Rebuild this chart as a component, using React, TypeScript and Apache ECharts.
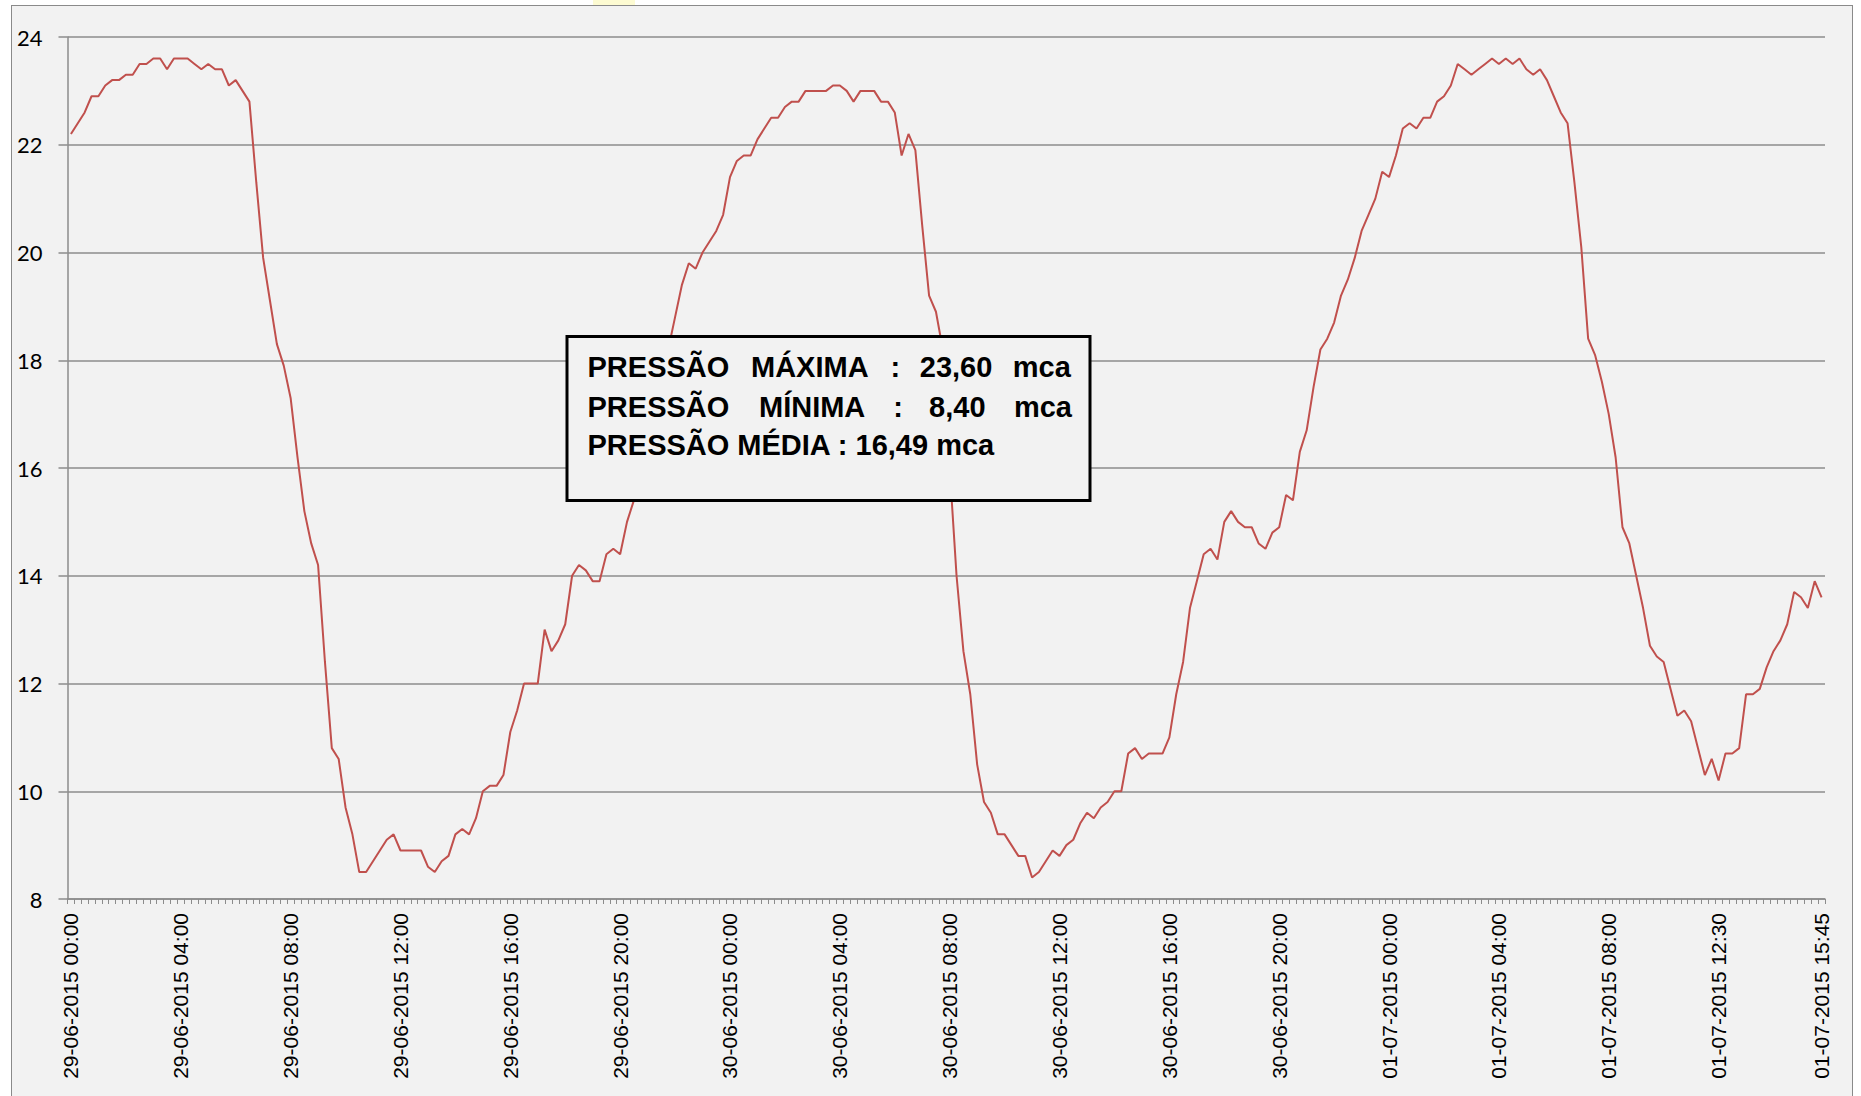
import React, { useEffect, useRef } from "react";
import * as echarts from "echarts";

// Pressure readings (mca), one every 15 minutes, 29-06-2015 00:00 .. 01-07-2015 15:45
const VALUES: number[] = [
  22.2, 22.4, 22.6, 22.9, 22.9, 23.1, 23.2, 23.2, 23.3, 23.3,
  23.5, 23.5, 23.6, 23.6, 23.4, 23.6, 23.6, 23.6, 23.5, 23.4,
  23.5, 23.4, 23.4, 23.1, 23.2, 23.0, 22.8, 21.3, 19.9, 19.1,
  18.3, 17.9, 17.3, 16.2, 15.2, 14.6, 14.2, 12.4, 10.8, 10.6,
  9.7, 9.2, 8.5, 8.5, 8.7, 8.9, 9.1, 9.2, 8.9, 8.9,
  8.9, 8.9, 8.6, 8.5, 8.7, 8.8, 9.2, 9.3, 9.2, 9.5,
  10.0, 10.1, 10.1, 10.3, 11.1, 11.5, 12.0, 12.0, 12.0, 13.0,
  12.6, 12.8, 13.1, 14.0, 14.2, 14.1, 13.9, 13.9, 14.4, 14.5,
  14.4, 15.0, 15.4, 15.9, 16.5, 17.0, 17.6, 18.2, 18.8, 19.4,
  19.8, 19.7, 20.0, 20.2, 20.4, 20.7, 21.4, 21.7, 21.8, 21.8,
  22.1, 22.3, 22.5, 22.5, 22.7, 22.8, 22.8, 23.0, 23.0, 23.0,
  23.0, 23.1, 23.1, 23.0, 22.8, 23.0, 23.0, 23.0, 22.8, 22.8,
  22.6, 21.8, 22.2, 21.9, 20.5, 19.2, 18.9, 18.2, 16.0, 14.0,
  12.6, 11.8, 10.5, 9.8, 9.6, 9.2, 9.2, 9.0, 8.8, 8.8,
  8.4, 8.5, 8.7, 8.9, 8.8, 9.0, 9.1, 9.4, 9.6, 9.5,
  9.7, 9.8, 10.0, 10.0, 10.7, 10.8, 10.6, 10.7, 10.7, 10.7,
  11.0, 11.8, 12.4, 13.4, 13.9, 14.4, 14.5, 14.3, 15.0, 15.2,
  15.0, 14.9, 14.9, 14.6, 14.5, 14.8, 14.9, 15.5, 15.4, 16.3,
  16.7, 17.5, 18.2, 18.4, 18.7, 19.2, 19.5, 19.9, 20.4, 20.7,
  21.0, 21.5, 21.4, 21.8, 22.3, 22.4, 22.3, 22.5, 22.5, 22.8,
  22.9, 23.1, 23.5, 23.4, 23.3, 23.4, 23.5, 23.6, 23.5, 23.6,
  23.5, 23.6, 23.4, 23.3, 23.4, 23.2, 22.9, 22.6, 22.4, 21.3,
  20.1, 18.4, 18.1, 17.6, 17.0, 16.2, 14.9, 14.6, 14.0, 13.4,
  12.7, 12.5, 12.4, 11.9, 11.4, 11.5, 11.3, 10.8, 10.3, 10.6,
  10.2, 10.7, 10.7, 10.8, 11.8, 11.8, 11.9, 12.3, 12.6, 12.8,
  13.1, 13.7, 13.6, 13.4, 13.9, 13.6,
];

// Tick labels shown on the category axis (index -> text)
const TICK_INDEXES: number[] = [0, 16, 32, 48, 64, 80, 96, 112, 128, 144, 160, 176, 192, 208, 224, 240, 255];
const TICK_TEXTS: string[] = [
  "29-06-2015 00:00", "29-06-2015 04:00", "29-06-2015 08:00", "29-06-2015 12:00",
  "29-06-2015 16:00", "29-06-2015 20:00", "30-06-2015 00:00", "30-06-2015 04:00",
  "30-06-2015 08:00", "30-06-2015 12:00", "30-06-2015 16:00", "30-06-2015 20:00",
  "01-07-2015 00:00", "01-07-2015 04:00", "01-07-2015 08:00", "01-07-2015 12:30",
  "01-07-2015 15:45",
];

const Y_MIN = 8;
const Y_MAX = 24;
const Y_STEP = 2;

const pad = (n: number) => (n < 10 ? "0" + n : "" + n);
const DAYS = ["29-06-2015", "30-06-2015", "01-07-2015"];
const CATEGORIES: string[] = VALUES.map((_, i) => {
  const mins = i * 15;
  const d = Math.floor(mins / 1440);
  const m = mins % 1440;
  return `${DAYS[d]} ${pad(Math.floor(m / 60))}:${pad(m % 60)}`;
});

const TICK_MAP = new Map<number, string>(TICK_INDEXES.map((ix, k) => [ix, TICK_TEXTS[k]]));

const BOX_FONT = 'bold 29px "Liberation Sans", Arial, sans-serif';

export default function App() {
  const ref = useRef<HTMLDivElement>(null);

  useEffect(() => {
    if (!ref.current) return;
    const chart = echarts.init(ref.current, undefined, { renderer: "svg" });
    const gray = "#8c8c8c";
    const word = (text: string, x: number, y: number) => ({
      type: "text",
      x,
      y,
      z: 101,
      style: { text, font: BOX_FONT, fill: "#000", align: "left", verticalAlign: "middle" },
    });
    chart.setOption({
      animation: false,
      grid: { left: 67.5, right: 36, top: 37, bottom: 197, containLabel: false },
      xAxis: {
        type: "category",
        data: CATEGORIES,
        boundaryGap: true,
        axisLine: { lineStyle: { color: gray, width: 1.5 } },
        axisTick: { show: true, interval: 0, length: 5, lineStyle: { color: gray, width: 1 } },
        axisLabel: {
          interval: (index: number) => TICK_MAP.has(index),
          formatter: (_v: string, index: number) => TICK_MAP.get(index) ?? "",
          rotate: 90,
          margin: 14,
          fontSize: 21,
          fontFamily: '"Liberation Sans", Arial, sans-serif',
          color: "#000",
        },
        splitLine: { show: false },
      },
      yAxis: {
        type: "value",
        min: Y_MIN,
        max: Y_MAX,
        interval: Y_STEP,
        axisLine: { show: true, lineStyle: { color: gray, width: 1.5 } },
        axisTick: { show: true, length: 9, lineStyle: { color: gray, width: 1.5 } },
        splitLine: { show: true, lineStyle: { color: gray, width: 1.5 } },
        axisLabel: { fontSize: 22, fontFamily: "Lato, sans-serif", color: "#000", margin: 25 },
      },
      series: [
        {
          type: "line",
          data: VALUES,
          symbol: "none",
          showSymbol: false,
          lineStyle: { color: "#c0504d", width: 2 },
          itemStyle: { color: "#c0504d" },
        },
      ],
      graphic: [
        {
          type: "rect",
          z: 100,
          shape: { x: 567, y: 336.5, width: 523, height: 164 },
          style: { fill: "#f2f2f2", stroke: "#000", lineWidth: 3 },
        },
        word("PRESSÃO", 587.5, 366.7),
        word("MÁXIMA", 751, 366.7),
        word(":", 890.6, 366.7),
        word("23,60", 919.8, 366.7),
        word("mca", 1012.8, 366.7),
        word("PRESSÃO", 587.5, 406.7),
        word("MÍNIMA", 759, 406.7),
        word(":", 893.3, 406.7),
        word("8,40", 929.1, 406.7),
        word("mca", 1013.9, 406.7),
        word("PRESSÃO MÉDIA : 16,49 mca", 587.5, 445),
      ],
    });
    return () => chart.dispose();
  }, []);

  return (
    <div
      style={{
        position: "fixed",
        left: 0,
        top: 0,
        width: 1861,
        height: 1096,
        overflow: "hidden",
        background: "#ffffff",
      }}
    >
      <div style={{ position: "absolute", left: 593, top: 0, width: 42, height: 5, background: "#fdfbd2" }} />
      <div
        style={{
          position: "absolute",
          left: 11,
          top: 5,
          width: 1842,
          height: 1110,
          border: "1.5px solid #8a8a8a",
          background: "#f2f2f2",
          boxSizing: "border-box",
        }}
      />
      <div ref={ref} style={{ position: "absolute", left: 0, top: 0, width: 1861, height: 1096 }} />
    </div>
  );
}
